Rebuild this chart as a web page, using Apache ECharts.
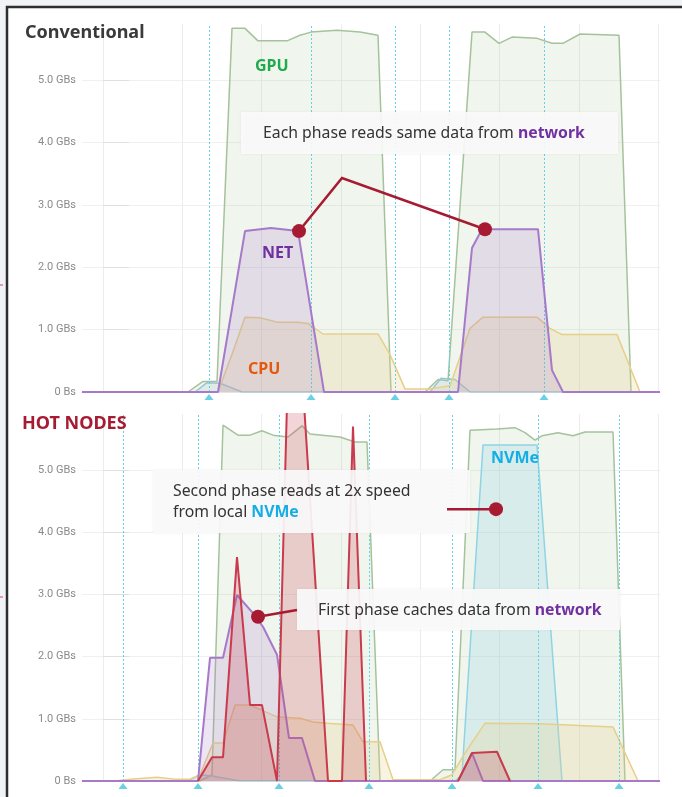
<!DOCTYPE html>
<html><head><meta charset="utf-8">
<script src="https://cdn.jsdelivr.net/npm/echarts@6/dist/echarts.min.js"></script>
<style>html,body{margin:0;padding:0;background:#f1f3f6;}#c{width:682px;height:797px;}</style>
</head><body><div id="c"></div>
<script>
// ---- Conventional panel (time in s, throughput in GB/s) ----
const topGpuTime = [-21, 85, 100, 114, 129, 142, 155, 184, 197, 208, 234, 257, 275, 277, 288, 322, 335, 345, 369, 382, 396, 409, 434, 449, 460, 477, 516, 528, 557];
const topGpuGBs  = [0, 0, 0.17, 0.17, 5.83, 5.83, 5.63, 5.63, 5.72, 5.77, 5.8, 5.77, 5.72, 5.7, 0, 0, 0.2, 0.18, 5.77, 5.77, 5.59, 5.69, 5.67, 5.59, 5.59, 5.74, 5.72, 0, 0];
const topNetTime = [-21, 115, 142, 168, 195, 221, 355, 369, 377, 383, 435, 449, 460, 557];
const topNetGBs  = [0, 0, 2.58, 2.63, 2.58, 0, 0, 2.31, 2.55, 2.61, 2.61, 0.35, 0, 0];
const topCpuTime = [-21, 115, 130, 142, 157, 174, 194, 205, 220, 275, 287, 302, 327, 347, 367, 380, 434, 447, 459, 514, 537, 557];
const topCpuGBs  = [0, 0, 0.65, 1.2, 1.19, 1.12, 1.12, 1.1, 0.93, 0.93, 0.6, 0.05, 0.05, 0.1, 1.02, 1.2, 1.2, 1.02, 0.92, 0.92, 0, 0];
const topNvmeTime = [-21, 92, 104, 117, 139, 327, 338, 352, 367, 557];
const topNvmeGBs  = [0, 0, 0.15, 0.14, 0, 0, 0.22, 0.2, 0, 0];
const topAnnotations = [106, 208, 292, 346, 441];

// ---- Hot nodes panel ----
const botGpuTime = [-21, 97, 109, 111, 120, 135, 147, 159, 170, 185, 199, 207, 237, 252, 264, 277, 327, 340, 352, 367, 394, 412, 422, 432, 439, 455, 470, 482, 510, 522, 557];
const botGpuGBs  = [0, 0, 0.1, 0.1, 5.72, 5.56, 5.56, 5.63, 5.56, 5.53, 5.71, 5.58, 5.53, 5.45, 5.45, 0, 0, 0.18, 0.18, 5.64, 5.66, 5.68, 5.6, 5.48, 5.55, 5.6, 5.55, 5.61, 5.61, 0, 0];
const botNvmeTime = [-21, 85, 97, 109, 137, 352, 359, 380, 434, 459, 557];
const botNvmeGBs  = [0, 0, 0.1, 0.08, 0, 0, 0.1, 5.4, 5.4, 0, 0];
const botNetTime = [-21, 95, 107, 120, 134, 150, 160, 174, 186, 199, 212, 355, 369, 380, 557];
const botNetGBs  = [0, 0, 1.98, 1.98, 2.99, 2.7, 2.48, 2.03, 0.69, 0.69, 0, 0, 0.45, 0, 0];
// cache writes; null marks the idle gap between the two phases
const botCacheTime = [95, 109, 120, 134, 147, 159, 174, 189, 225, 239, 250, 263, 300, 355, 369, 394, 407];
const botCacheGBs  = [0, 0.38, 0.38, 3.6, 1.22, 1.22, 0, 9.1, 0, 0, 5.7, 0, null, 0, 0.45, 0.47, 0];
const botCpuTime = [-21, 12, 27, 54, 72, 87, 97, 110, 120, 132, 147, 174, 197, 210, 224, 250, 260, 277, 290, 337, 349, 362, 382, 437, 510, 535, 557];
const botCpuGBs  = [0, 0, 0.03, 0.06, 0.03, 0.03, 0.1, 0.61, 0.61, 1.22, 1.22, 1.03, 1.01, 0.95, 0.93, 0.9, 0.63, 0.63, 0.02, 0.02, 0.1, 0.45, 0.93, 0.92, 0.87, 0, 0];
const botAnnotations = [20, 95, 176, 266, 349, 435, 516];

// y tick values (GB/s)
const yTicks = [0, 1, 2, 3, 4, 5];
// callout anchor points [time, GB/s]
const calloutTop = [[196, 2.58], [382, 2.61]];
const calloutNvme = [393, 4.37];
const calloutCache = [155, 2.64];

const tMin = -21, tMax = 557, tGrid = 79.3, yMax = 5.9;

function pairs(t, v) { return t.map((x, i) => [x, v[i]]); }

const C = {
  gpu: '#a5c29c', net: '#a679c9', cpu: '#e7cf88', nvme: '#8fd4e4', cache: '#c83a4c',
  red: '#a61b32'
};

function area(name, t, v, color, op, w, gi, z) {
  return {
    type: 'line', name: name, data: pairs(t, v), xAxisIndex: gi, yAxisIndex: gi,
    symbol: 'none', silent: true, z: z, animation: false, connectNulls: false,
    lineStyle: { color: color, width: w }, areaStyle: { color: color, opacity: op }
  };
}

function annot(marks, gi) {
  return [{
    type: 'line', data: [], xAxisIndex: gi, yAxisIndex: gi, silent: true, z: 1,
    markLine: {
      silent: true, symbol: 'none', animation: false, label: { show: false },
      lineStyle: { color: '#62d2e6', type: [2, 2], width: 1 },
      data: marks.map(m => ({ xAxis: m }))
    }
  }, {
    type: 'scatter', data: marks.map(m => [m, 0]), xAxisIndex: gi, yAxisIndex: gi,
    symbol: 'triangle', symbolSize: [9, 6], symbolOffset: [0, 5], clip: false,
    itemStyle: { color: '#45c6df' }, silent: true, z: 10, animation: false
  }];
}

function xAx(gi) {
  return {
    type: 'value', gridIndex: gi, min: tMin, max: tMax, minInterval: tGrid, maxInterval: tGrid,
    axisLabel: { show: false }, axisTick: { show: false },
    axisLine: { show: true, lineStyle: { color: '#e3e3e3' } },
    splitLine: { show: true, showMinLine: false, showMaxLine: false, lineStyle: { color: '#ececec' } }
  };
}
function yAx(gi) {
  return {
    type: 'value', gridIndex: gi, min: 0, max: yMax, interval: 1,
    axisLine: { show: false },
    axisTick: { show: true, inside: true, length: 26, lineStyle: { color: '#e0e0e0' } },
    axisLabel: {
      color: '#8a8a8a', fontSize: 11, fontFamily: 'Roboto', margin: 6, showMaxLabel: false,
      formatter: v => (yTicks.indexOf(v) < 0 ? '' : (v === 0 ? '0 Bs' : v.toFixed(1) + ' GBs'))
    },
    splitLine: { show: true, showMaxLine: false, lineStyle: { color: '#f0f0f0' } }
  };
}

const chart = echarts.init(document.getElementById('c'), null, { renderer: 'canvas' });
const option = {
  animation: false,
  backgroundColor: 'transparent',
  grid: [
    { left: 82, right: 22, top: 24, height: 368 },
    { left: 82, right: 22, top: 414, height: 367 }
  ],
  xAxis: [xAx(0), xAx(1)],
  yAxis: [yAx(0), yAx(1)],
  series: [
    area('GPU', topGpuTime, topGpuGBs, C.gpu, 0.17, 1.5, 0, 2),
    area('NVMe', topNvmeTime, topNvmeGBs, '#9cc4d6', 0.2, 1.5, 0, 3),
    area('CPU', topCpuTime, topCpuGBs, C.cpu, 0.25, 1.5, 0, 4),
    area('NET', topNetTime, topNetGBs, C.net, 0.2, 2, 0, 5),
    ...annot(topAnnotations, 0),
    area('GPU', botGpuTime, botGpuGBs, C.gpu, 0.17, 1.5, 1, 2),
    area('NVMe', botNvmeTime, botNvmeGBs, C.nvme, 0.25, 1.5, 1, 3),
    area('CPU', botCpuTime, botCpuGBs, C.cpu, 0.25, 1.5, 1, 4),
    area('NET', botNetTime, botNetGBs, C.net, 0.2, 2, 1, 5),
    area('Cache', botCacheTime, botCacheGBs, C.cache, 0.22, 2, 1, 6),
    ...annot(botAnnotations, 1)
  ]
};
chart.setOption(option);

const d1 = chart.convertToPixel({ gridIndex: 0 }, calloutTop[0]);
const d2 = chart.convertToPixel({ gridIndex: 0 }, calloutTop[1]);
const d3 = chart.convertToPixel({ gridIndex: 1 }, calloutNvme);
const d4 = chart.convertToPixel({ gridIndex: 1 }, calloutCache);

const FONT = '"Noto Sans", "Open Sans", sans-serif';
function label(txt, x, y, color, size) {
  return { type: 'text', x: x, y: y, z: 50, silent: true,
    style: { text: txt, fill: color, font: 'bold ' + size + 'px ' + FONT, textVerticalAlign: 'middle' } };
}
function box(x, y, w, h) {
  return { type: 'rect', z: 40, silent: true, shape: { x: x, y: y, width: w, height: h },
    style: { fill: 'rgba(250,250,250,0.92)', shadowBlur: 3, shadowColor: 'rgba(0,0,0,0.06)' } };
}
function dot(p) {
  return { type: 'circle', z: 60, silent: true, shape: { cx: p[0], cy: p[1], r: 7 }, style: { fill: C.red } };
}
const richBase = {
  a: { fill: '#333', font: '15.8px ' + FONT, lineHeight: 21 },
  n: { fill: '#7030a0', font: 'bold 15.8px ' + FONT, lineHeight: 21 },
  v: { fill: '#14aee6', font: 'bold 15.8px ' + FONT, lineHeight: 21 }
};

chart.setOption({
  graphic: [
    { type: 'rect', z: -10, silent: true, shape: { x: 7, y: 7, width: 700, height: 800 },
      style: { fill: '#ffffff', stroke: '#2e2e2e', lineWidth: 2.5 } },
    { type: 'line', z: 50, silent: true, shape: { x1: 0, y1: 285, x2: 3, y2: 285 }, style: { stroke: '#c84a5a', lineWidth: 1 } },
    { type: 'line', z: 50, silent: true, shape: { x1: 0, y1: 597, x2: 3, y2: 597 }, style: { stroke: '#c84a5a', lineWidth: 1 } },
    label('Conventional', 25, 33, '#3a3a3a', 18),
    label('HOT NODES', 22, 424, C.red, 18),
    label('GPU', 255, 66, '#1fab4b', 16),
    label('NET', 262, 253, '#7030a0', 16),
    label('CPU', 248, 369, '#e35a0f', 16),
    label('NVMe', 491, 458, '#14aee6', 16),
    box(241, 112, 377, 42),
    { type: 'text', z: 45, silent: true, x: 263, y: 133,
      style: { text: '{a|Each phase reads same data from }{n|network}', rich: richBase, textVerticalAlign: 'middle' } },
    { type: 'polyline', z: 55, silent: true, shape: { points: [d1, [342, 178], d2] },
      style: { stroke: C.red, lineWidth: 2.5, fill: null } },
    dot(d1), dot(d2),
    box(153, 470, 317, 63),
    { type: 'text', z: 45, silent: true, x: 173, y: 502,
      style: { text: '{a|Second phase reads at 2x speed}\n{a|from local }{v|NVMe}', rich: richBase, textVerticalAlign: 'middle' } },
    { type: 'line', z: 55, silent: true, shape: { x1: 447, y1: d3[1], x2: d3[0], y2: d3[1] }, style: { stroke: C.red, lineWidth: 2.5 } },
    dot(d3),
    box(297, 589, 323, 41),
    { type: 'text', z: 45, silent: true, x: 318, y: 610,
      style: { text: '{a|First phase caches data from }{n|network}', rich: richBase, textVerticalAlign: 'middle' } },
    { type: 'line', z: 55, silent: true, shape: { x1: 297, y1: 610, x2: d4[0], y2: d4[1] }, style: { stroke: C.red, lineWidth: 2.5 } },
    dot(d4)
  ]
});
</script></body></html>
